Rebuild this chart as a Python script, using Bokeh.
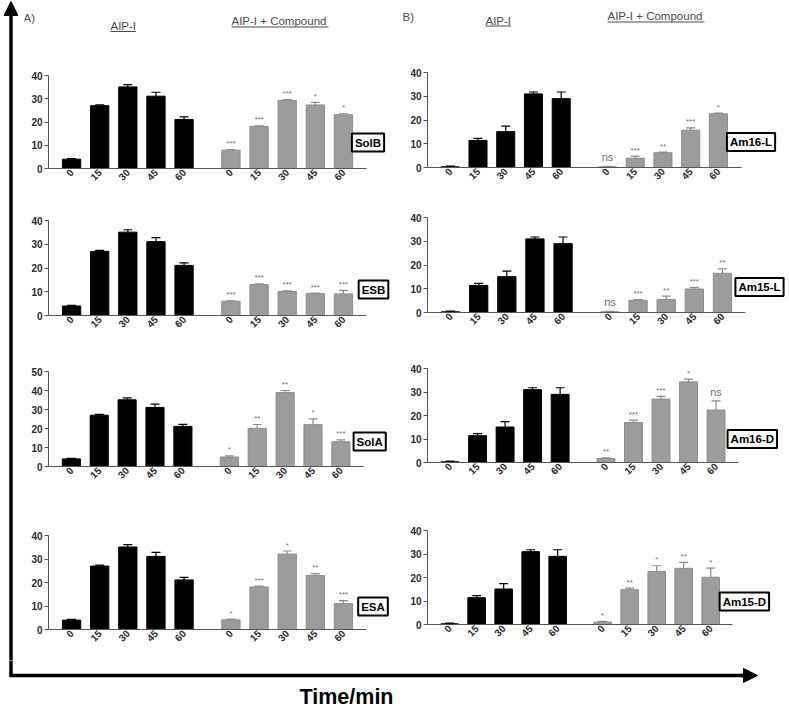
import math
from bokeh.plotting import figure
from bokeh.layouts import row, column
from bokeh.models import (Range1d, FixedTicker, Whisker, TeeHead, Label,
                          ColumnDataSource, Arrow, NormalHead)
from bokeh.embed import file_html
from bokeh.resources import INLINE
from bokeh.core.properties import value

FONT = "Liberation Sans"

# ---------------- data ----------------
times = ["0", "15", "30", "45", "60"]

aip_a = [4.0, 27.0, 35.1, 31.1, 21.1]
aip_a_err = [0.3, 0.4, 1.0, 1.7, 1.1]
aip_b = [0.3, 11.4, 15.1, 31.0, 29.0]
aip_b_err = [0.3, 0.9, 2.3, 0.8, 2.8]

solb = [7.9, 18.1, 29.3, 27.3, 23.1]
solb_err = [0.2, 0.2, 0.3, 1.1, 0.4]
solb_sig = ["***", "***", "***", "*", "*"]

esb = [6.0, 13.0, 10.1, 9.2, 9.1]
esb_err = [0.2, 0.3, 0.3, 0.2, 1.5]
esb_sig = ["***", "***", "***", "***", "***"]

sola = [5.0, 20.1, 38.9, 22.0, 13.0]
sola_err = [0.6, 2.0, 1.1, 3.1, 1.0]
sola_sig = ["*", "**", "**", "*", "***"]

esa = [4.1, 18.1, 32.1, 23.0, 11.0]
esa_err = [0.3, 0.4, 1.3, 0.8, 1.3]
esa_sig = ["*", "***", "*", "**", "***"]

am16l = [0.3, 3.9, 6.2, 15.7, 22.6]
am16l_err = [0.2, 0.9, 0.3, 1.0, 0.3]
am16l_sig = ["ns", "***", "**", "***", "*"]

am15l = [0.3, 5.1, 5.5, 9.9, 16.5]
am15l_err = [0.2, 0.3, 1.4, 0.7, 1.9]
am15l_sig = ["ns", "***", "**", "***", "**"]

am16d = [1.7, 17.0, 27.0, 34.3, 22.3]
am16d_err = [0.3, 1.0, 1.1, 1.2, 3.9]
am16d_sig = ["**", "***", "***", "*", "ns"]

am15d = [1.0, 14.8, 22.6, 23.9, 20.1]
am15d_err = [0.3, 0.7, 2.4, 2.5, 3.9]
am15d_sig = ["*", "**", "*", "**", "*"]

header_left = ["A)", "AIP-I", "AIP-I + Compound"]
header_right = ["B)", "AIP-I", "AIP-I + Compound"]
axis_title = "Time/min"

# ---------------- layout / style ----------------
X_START, X_END = 0.54, 34.46      # extent of the drawn x axis (data units)
AXIS_PX = 318.0                   # on-screen length of the x axis
UPP = (X_END - X_START) / AXIS_PX  # data units per pixel
STEP = 3
GROUP_OFFSET = 17
BAR_W = 1.95
GRAY = "#9c9c9c"
GRAY_LINE = "#8a8a8a"
AXIS_COL = "#555555"
LABEL_COL = "#2a2a2a"

LEFT_W = 24
WA, WB = 368, 397
HEADER_H = 58


def xpos(i, group):
    return STEP * (i + 1) + group * GROUP_OFFSET


def style_fig(p):
    p.outline_line_color = None
    p.background_fill_color = "white"
    p.border_fill_color = "white"


def make_panel(name, black, black_err, gray, gray_err, sig, ymax, geom):
    w, h, lb, tb, bb, box_dx, box_dy = geom
    frame_w = w - lb
    frame_h = h - tb - bb
    x_end = X_START + frame_w * UPP
    p = figure(width=w, height=h, x_range=Range1d(X_START, x_end),
               y_range=Range1d(0, ymax), min_border_left=lb, min_border_right=0,
               min_border_top=tb, min_border_bottom=bb, title=None,
               toolbar_location=None, tools="", output_backend="svg")
    style_fig(p)
    p.grid.visible = False

    xb = [xpos(i, 0) for i in range(len(black))]
    xg = [xpos(i, 1) for i in range(len(gray))]
    sb = ColumnDataSource(dict(x=xb, top=black,
                               upper=[v + e for v, e in zip(black, black_err)]))
    sg = ColumnDataSource(dict(x=xg, top=gray,
                               upper=[v + e for v, e in zip(gray, gray_err)]))

    p.vbar(x="x", top="top", width=BAR_W, source=sb, fill_color="black",
           line_color="black")
    p.vbar(x="x", top="top", width=BAR_W, source=sg, fill_color=GRAY,
           line_color=GRAY_LINE)

    p.add_layout(Whisker(base="x", lower="top", upper="upper", source=sb,
                         line_color="black", line_width=1.2,
                         upper_head=TeeHead(size=9, line_color="black", line_width=1.2),
                         lower_head=None))
    p.add_layout(Whisker(base="x", lower="top", upper="upper", source=sg,
                         line_color=GRAY_LINE, line_width=1.2,
                         upper_head=TeeHead(size=9, line_color=GRAY_LINE, line_width=1.2),
                         lower_head=None))

    up = [v + e for v, e in zip(gray, gray_err)]
    star = ColumnDataSource(dict(x=[xg[i] for i, s in enumerate(sig) if s != "ns"],
                                 y=[up[i] for i, s in enumerate(sig) if s != "ns"],
                                 t=[s for s in sig if s != "ns"]))
    ns = ColumnDataSource(dict(x=[xg[i] for i, s in enumerate(sig) if s == "ns"],
                               y=[up[i] for i, s in enumerate(sig) if s == "ns"],
                               t=[s for s in sig if s == "ns"]))
    p.text(x="x", y="y", text="t", source=star, text_align="center",
           text_baseline="middle", y_offset=-6, text_font=value(FONT),
           text_font_size="8px", text_color="#707070")
    p.text(x="x", y="y", text="t", source=ns, text_align="center",
           text_baseline="middle", y_offset=-9, text_font=value(FONT),
           text_font_size="11px", text_color="#707070")

    ya = p.yaxis[0]
    ya.ticker = FixedTicker(ticks=list(range(0, ymax + 1, 10)))
    ya.major_tick_out = 4
    ya.major_tick_in = 0
    ya.minor_tick_out = 0
    ya.minor_tick_in = 0
    ya.major_label_standoff = 2
    ya.axis_line_color = AXIS_COL
    ya.major_tick_line_color = AXIS_COL
    ya.major_label_text_font = FONT
    ya.major_label_text_font_size = "10px"
    ya.major_label_text_font_style = "bold"
    ya.major_label_text_color = LABEL_COL

    xa = p.xaxis[0]
    ticks = xb + xg
    xa.ticker = FixedTicker(ticks=ticks)
    xa.major_label_overrides = {t: lab for t, lab in zip(ticks, times + times)}
    xa.bounds = (X_START, X_END)
    xa.major_tick_out = 0
    xa.major_tick_in = 0
    xa.minor_tick_out = 0
    xa.minor_tick_in = 0
    xa.major_label_standoff = 2
    xa.major_label_orientation = math.pi / 4
    xa.axis_line_color = AXIS_COL
    xa.major_label_text_font = FONT
    xa.major_label_text_font_size = "10px"
    xa.major_label_text_font_style = "bold"
    xa.major_label_text_color = LABEL_COL

    lab = Label(x=X_END + box_dx * UPP, y=box_dy * ymax / frame_h, text=name,
                text_font=FONT, text_font_size="11.5px", text_font_style="bold",
                text_color="black", text_align="center", text_baseline="middle",
                border_line_color="black", border_line_width=2,
                background_fill_color="white", padding=3)
    p.add_layout(lab)
    return p


# width, height, left border, top border, bottom border, box dx, box dy (px)
gA1 = (WA, 138, 24, 17, 28, 1.5, 26)
gA2 = (WA, 150, 24, 24, 31, 7, 26)
gA3 = (WA, 156, 21, 25, 36, 6, 25)
gA4 = (WA, 158, 24, 33, 31, 6.5, 23)
gB1 = (WB, 136, 30, 14, 27, 10, 25.5)
gB2 = (WB, 148, 35, 23, 30, 14, 25.5)
gB3 = (WB, 154, 27, 26, 34, 14, 23.5)
gB4 = (WB, 164, 20, 34, 36, 12, 23)

A1 = make_panel("SolB", aip_a, aip_a_err, solb, solb_err, solb_sig, 40, gA1)
A2 = make_panel("ESB", aip_a, aip_a_err, esb, esb_err, esb_sig, 40, gA2)
A3 = make_panel("SolA", aip_a, aip_a_err, sola, sola_err, sola_sig, 50, gA3)
A4 = make_panel("ESA", aip_a, aip_a_err, esa, esa_err, esa_sig, 40, gA4)
B1 = make_panel("Am16-L", aip_b, aip_b_err, am16l, am16l_err, am16l_sig, 40, gB1)
B2 = make_panel("Am15-L", aip_b, aip_b_err, am15l, am15l_err, am15l_sig, 40, gB2)
B3 = make_panel("Am16-D", aip_b, aip_b_err, am16d, am16d_err, am16d_sig, 40, gB3)
B4 = make_panel("Am15-D", aip_b, aip_b_err, am15d, am15d_err, am15d_sig, 40, gB4)


def plain_fig(w, h, xr, yr):
    p = figure(width=w, height=h, x_range=Range1d(*xr), y_range=Range1d(*yr),
               min_border=0, title=None, toolbar_location=None, tools="",
               output_backend="svg", x_axis_location=None, y_axis_location=None)
    style_fig(p)
    p.grid.visible = False
    return p


# header (page coordinates)
header = plain_fig(765, HEADER_H, (LEFT_W, 789), (HEADER_H, 0))
hx = [23, 110, 231, 402, 485, 607]
hy = [17, 25, 20.5, 16, 20, 15.5]
ul_y = [None, 31, 26.5, None, 25.5, 21.5]
htext = header_left + header_right
header.text(x=hx, y=hy, text=htext, text_font=value(FONT), text_font_size="11.5px",
            text_color="#4a4a4a", text_baseline="middle", text_align="left")
ul = [1, 2, 4, 5]
ulw = [25.5, 97, 25.5, 97]
header.segment(x0=[hx[i] for i in ul], x1=[hx[i] + w for i, w in zip(ul, ulw)],
               y0=[ul_y[i] for i in ul], y1=[ul_y[i] for i in ul],
               line_color="#4a4a4a", line_width=1)

# left strip with vertical arrow
left = plain_fig(LEFT_W, 660, (0, LEFT_W), (660, 0))
left.add_layout(Arrow(end=NormalHead(size=14, fill_color="black", line_color="black"),
                      x_start=10.5, y_start=665, x_end=10.5, y_end=1,
                      line_width=3.5, line_color="black"))

# bottom strip with horizontal arrow and axis title
bottom = plain_fig(789, 48, (0, 789), (708, 660))
bottom.line(x=[10.5, 10.5, 745], y=[655, 675, 675], line_width=3.5,
            line_color="black", line_join="miter")
bottom.add_layout(Arrow(end=NormalHead(size=14, fill_color="black", line_color="black"),
                        x_start=740, y_start=675, x_end=757, y_end=675,
                        line_width=3.5, line_color="black"))
bottom.text(x=[346], y=[696.5], text=[axis_title], text_font=value(FONT),
            text_font_size="21.5px", text_font_style="bold", text_color="black",
            text_align="center", text_baseline="middle")

col_a = column(A1, A2, A3, A4)
col_b = column(B1, B2, B3, B4)
grid = column(header, row(col_a, col_b))
layout = column(row(left, grid), bottom)

open("out.html", "w").write(file_html(layout, INLINE))
